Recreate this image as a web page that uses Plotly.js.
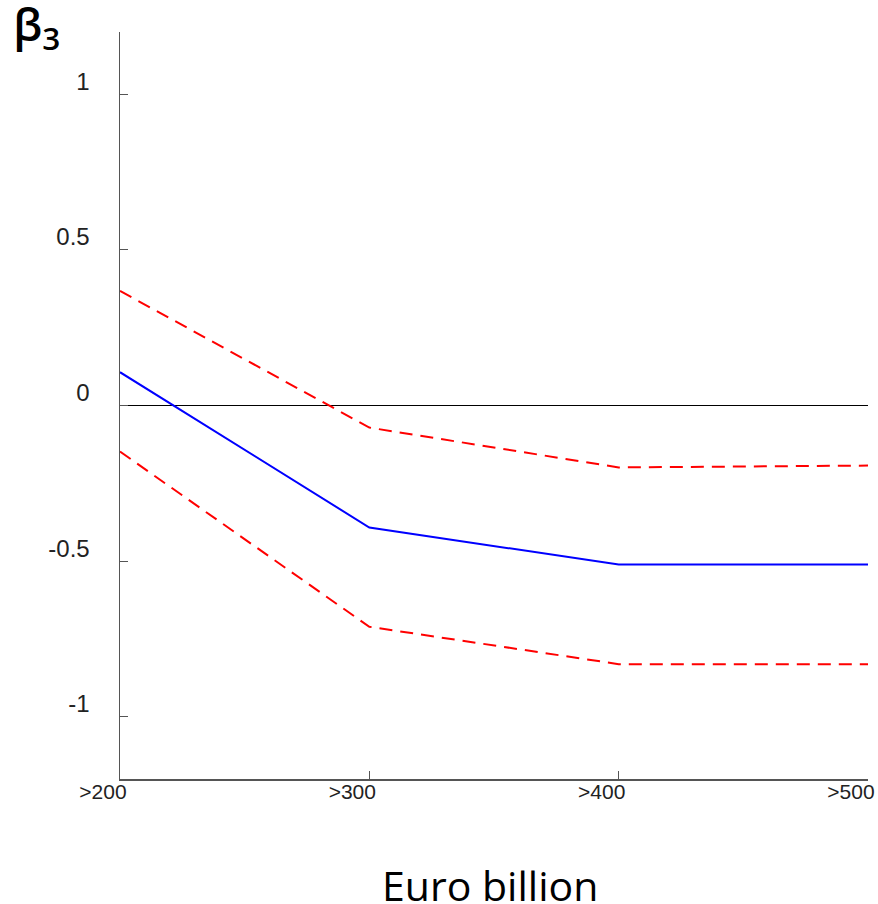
<!DOCTYPE html>
<html>
<head>
<meta charset="utf-8">
<script src="https://cdn.plot.ly/plotly-3.0.1.min.js"></script>
<style>html,body{margin:0;padding:0;background:#fff;}#chart{width:878px;height:904px;}</style>
</head>
<body>
<div id="chart"></div>
<script>
const categories = ['>200', '>300', '>400', '>500'];
const beta = [0.107, -0.392, -0.511, -0.511];
const upperBand = [0.368, -0.071, -0.199, -0.193];
const lowerBand = [-0.148, -0.711, -0.831, -0.831];
const yTickVals = [-1, -0.5, 0, 0.5, 1];
const yTickText = ['-1', '-0.5', '0', '0.5', '1'];
const xTitle = 'Euro billion';

const traces = [
  {x: categories, y: upperBand, type: 'scatter', mode: 'lines',
   line: {color: '#ff0000', width: 2, dash: '13px,8px'}, hoverinfo: 'skip'},
  {x: categories, y: lowerBand, type: 'scatter', mode: 'lines',
   line: {color: '#ff0000', width: 2, dash: '13px,8px'}, hoverinfo: 'skip'},
  {x: categories, y: beta, type: 'scatter', mode: 'lines',
   line: {color: '#0000ff', width: 2}, hoverinfo: 'skip'}
];

const layout = {
  width: 878, height: 904,
  margin: {l: 120, r: 10, t: 32, b: 125},
  paper_bgcolor: '#fff', plot_bgcolor: '#fff',
  showlegend: false,
  font: {family: 'Liberation Sans, Arial, sans-serif', color: '#222'},
  title: {text: 'β<sub>3</sub>', x: 0.015, xanchor: 'left', xref: 'container',
          y: 0.99, yanchor: 'top', yref: 'container',
          font: {family: 'Open Sans, sans-serif', size: 45, weight: 600, color: '#000'}},
  xaxis: {
    type: 'category', range: [0, 3],
    showgrid: false, zeroline: false,
    showline: true, linecolor: '#555', linewidth: 1.5,
    ticks: 'inside', ticklen: 8, tickcolor: '#555', tickwidth: 1,
    tickfont: {size: 21, color: '#222'},
    ticklabelshift: -17, ticklabelstandoff: -7
  },
  yaxis: {
    range: [-1.2, 1.2],
    tickmode: 'array', tickvals: yTickVals, ticktext: yTickText,
    showgrid: false,
    zeroline: true, zerolinecolor: '#000', zerolinewidth: 1,
    showline: true, linecolor: '#555', linewidth: 1.5,
    ticks: 'inside', ticklen: 8, tickcolor: '#555', tickwidth: 1,
    tickfont: {size: 24, color: '#222'},
    ticklabelstandoff: 24, ticklabelshift: -13
  },
  annotations: [{
    text: xTitle, xref: 'paper', yref: 'paper', x: 0.495, y: -0.142,
    xanchor: 'center', yanchor: 'middle', showarrow: false,
    font: {family: 'Open Sans, sans-serif', size: 41, color: '#000'}
  }]
};

Plotly.newPlot('chart', traces, layout, {displayModeBar: false, staticPlot: true});
</script>
</body>
</html>
